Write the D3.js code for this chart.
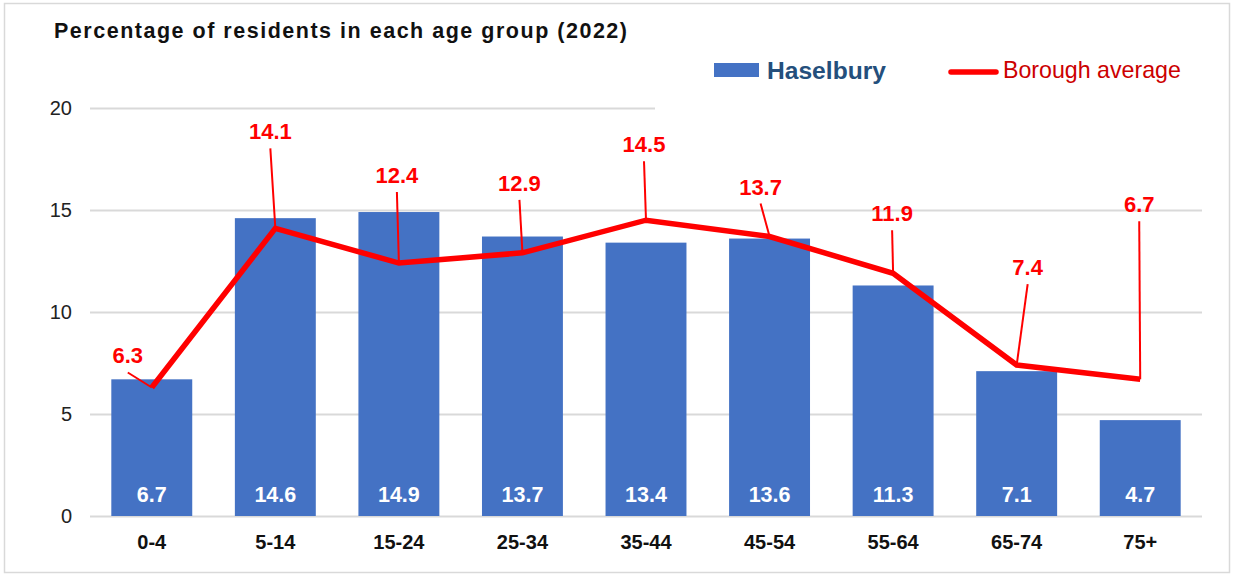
<!DOCTYPE html>
<html>
<head>
<meta charset="utf-8">
<script src="https://cdn.jsdelivr.net/npm/d3@7"></script>
<style>
  body { margin: 0; background: #fff; }
  svg { display: block; font-family: "Liberation Sans", Arial, sans-serif; }
</style>
</head>
<body>
<script>
// data
var ageGroups = ['0-4', '5-14', '15-24', '25-34', '35-44', '45-54', '55-64', '65-74', '75+'];
var haselbury = [6.7, 14.6, 14.9, 13.7, 13.4, 13.6, 11.3, 7.1, 4.7];
var boroughAvg = [6.3, 14.1, 12.4, 12.9, 14.5, 13.7, 11.9, 7.4, 6.7];
var yTicks = [0, 5, 10, 15, 20];

// where the red labels sit, relative to their point (pixels)
var labelShift = [[-24, -24], [-5, -89], [-2, -80], [-3, -62], [-2, -68],
                  [-9, -42], [-1, -52], [11, -90], [-1, -167]];

var svg = d3.select('body')
  .append('svg')
  .attr('width', 1235)
  .attr('height', 575);

// chart frame
svg.append('rect')
  .attr('x', 4.5).attr('y', 3.5)
  .attr('width', 1225).attr('height', 569)
  .attr('fill', '#fff')
  .attr('stroke', '#d9d9d9')
  .attr('stroke-width', 1.5);

var x = d3.scaleBand()
  .domain(ageGroups)
  .range([90, 1202])
  .paddingInner(0.345)
  .paddingOuter(0.1725);

var y = d3.scaleLinear()
  .domain([0, 20])
  .range([516, 108]);

// gridlines + y labels
var yAxis = svg.append('g')
  .attr('transform', 'translate(90,0)')
  .call(d3.axisLeft(y).tickValues(yTicks).tickSize(-1112).tickPadding(18));
yAxis.select('.domain').remove();
yAxis.selectAll('line').attr('stroke', '#d9d9d9').attr('stroke-width', 2);
yAxis.selectAll('text')
  .attr('font-size', 20)
  .attr('fill', '#222')
  .attr('font-family', '"Liberation Sans", Arial, sans-serif');

// legend box hides the top gridline on the right
svg.append('rect')
  .attr('x', 655).attr('y', 45)
  .attr('width', 560).attr('height', 68)
  .attr('fill', '#fff');

// x labels
var xAxis = svg.append('g')
  .attr('transform', 'translate(0,516)')
  .call(d3.axisBottom(x).tickSize(0).tickPadding(19));
xAxis.select('.domain').remove();
xAxis.selectAll('text')
  .attr('font-size', 20)
  .attr('font-weight', 'bold')
  .attr('fill', '#111')
  .attr('font-family', '"Liberation Sans", Arial, sans-serif');

// bars
svg.selectAll('rect.bar')
  .data(haselbury)
  .enter().append('rect')
  .attr('class', 'bar')
  .attr('x', function(d, i) { return x(ageGroups[i]); })
  .attr('y', function(d) { return y(d); })
  .attr('width', x.bandwidth())
  .attr('height', function(d) { return y(0) - y(d); })
  .attr('fill', '#4472c4');

svg.selectAll('text.barlabel')
  .data(haselbury)
  .enter().append('text')
  .attr('class', 'barlabel')
  .attr('x', function(d, i) { return x(ageGroups[i]) + x.bandwidth() / 2; })
  .attr('y', 502)
  .attr('text-anchor', 'middle')
  .attr('font-size', 21.5)
  .attr('font-weight', 'bold')
  .attr('fill', '#fff')
  .text(function(d) { return d.toFixed(1); });

// borough line
var cx = function(i) { return x(ageGroups[i]) + x.bandwidth() / 2; };

var line = d3.line()
  .x(function(d, i) { return cx(i); })
  .y(function(d) { return y(d); });

svg.append('path')
  .datum(boroughAvg)
  .attr('d', line)
  .attr('fill', 'none')
  .attr('stroke', '#ff0000')
  .attr('stroke-width', 5.5)
  .attr('stroke-linejoin', 'miter');

// leader lines
svg.selectAll('line.leader')
  .data(boroughAvg)
  .enter().append('line')
  .attr('class', 'leader')
  .attr('x1', function(d, i) { return cx(i) + labelShift[i][0]; })
  .attr('y1', function(d, i) { return y(d) + labelShift[i][1] + 9; })
  .attr('x2', function(d, i) { return cx(i); })
  .attr('y2', function(d) { return y(d); })
  .attr('stroke', '#ff0000')
  .attr('stroke-width', 2);

svg.selectAll('text.avglabel')
  .data(boroughAvg)
  .enter().append('text')
  .attr('class', 'avglabel')
  .attr('x', function(d, i) { return cx(i) + labelShift[i][0]; })
  .attr('y', function(d, i) { return y(d) + labelShift[i][1]; })
  .attr('text-anchor', 'middle')
  .attr('font-size', 22)
  .attr('font-weight', 'bold')
  .attr('fill', '#ff0000')
  .text(function(d) { return d.toFixed(1); });

// title
svg.append('text')
  .attr('x', 54)
  .attr('y', 38)
  .attr('font-size', 21.5)
  .attr('font-weight', 'bold')
  .attr('fill', '#111')
  .attr('textLength', 573)
  .attr('lengthAdjust', 'spacing')
  .text('Percentage of residents in each age group (2022)');

// legend
svg.append('rect')
  .attr('x', 714).attr('y', 63)
  .attr('width', 45).attr('height', 14)
  .attr('fill', '#4472c4');
svg.append('text')
  .attr('x', 767).attr('y', 79)
  .attr('font-size', 24.6)
  .attr('font-weight', 'bold')
  .attr('fill', '#244f7c')
  .text('Haselbury');

svg.append('line')
  .attr('x1', 951).attr('y1', 72)
  .attr('x2', 996).attr('y2', 72)
  .attr('stroke', '#ff0000')
  .attr('stroke-width', 5.5)
  .attr('stroke-linecap', 'round');
svg.append('text')
  .attr('x', 1003).attr('y', 78)
  .attr('font-size', 23.2)
  .attr('fill', '#cc0000')
  .text('Borough average');
</script>
</body>
</html>
